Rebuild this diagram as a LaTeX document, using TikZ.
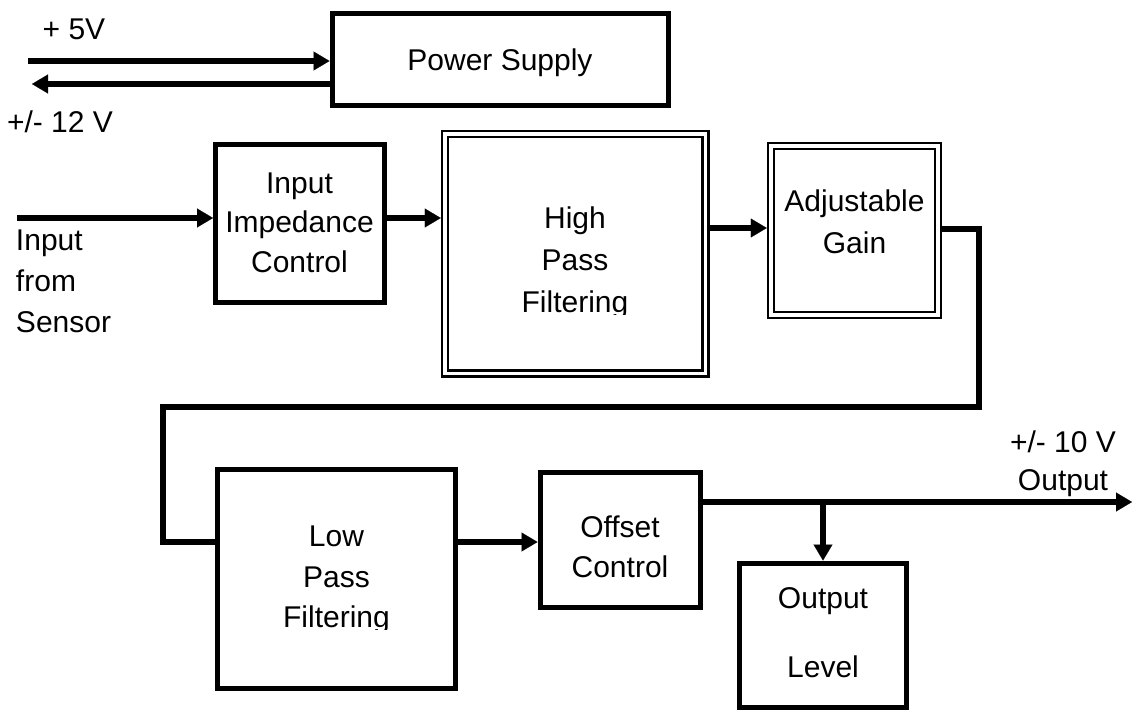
\documentclass[tikz,border=0pt]{standalone}
\usepackage{fontspec}
\setmainfont{Liberation Sans}
\usetikzlibrary{arrows.meta}
\begin{document}
\begin{tikzpicture}[x=1pt,y=-1pt,
 box/.style={draw, line width=5pt, inner sep=0pt, outer sep=2.5pt},
 dbox/.style={draw, line width=2.5pt, double, double distance=3.5pt, inner sep=0pt, outer sep=4.25pt},
 txt/.style={inner sep=0pt, outer sep=0pt, font=\fontsize{30}{40}\selectfont, align=center},
 wire/.style={line width=5.5pt},
 arr/.style={wire, -{Triangle[length=16pt,width=19pt,line width=0.1pt]}}
]
\useasboundingbox (0,0) rectangle (1132,712);

% boxes
\node[box, minimum width=336, minimum height=92.5] (ps) at (500,59.25) {};
\node[box, minimum width=168.5, minimum height=158] (imp) at (299.75,223.5) {};
\node[dbox, minimum width=260.5, minimum height=239.5] (hp) at (575.25,253.75) {};
\node[dbox, minimum width=167, minimum height=169] (gain) at (854.5,230.5) {};
\node[box, minimum width=238, minimum height=219] (lp) at (336.5,579) {};
\node[box, minimum width=160, minimum height=135] (off) at (620,539.5) {};
\node[box, minimum width=166.5, minimum height=144.5] (ol) at (823,635.25) {};

% texts
\node[txt] (pstext) at (500,62.5) {Power Supply};
\node[txt] (t5) at (74,29) {+ 5V};
\node[txt] (t12) at (60,122) {+/- 12 V};
\node[txt, anchor=west, align=left, font=\fontsize{30}{41}\selectfont] (tin) at (16,281) {Input\\from\\Sensor};
\node[txt, font=\fontsize{30}{39.5}\selectfont] (timp) at (299.5,222.5) {Input\\Impedance\\Control};
\begin{scope}
\clip (445,134) rectangle (706,314);
\node[txt, font=\fontsize{30}{42}\selectfont] (thp) at (575,263) {High\\Pass\\Filtering};
\end{scope}
\node[txt, font=\fontsize{30}{42}\selectfont] (tgain) at (854.5,222) {Adjustable\\Gain};
\begin{scope}
\clip (217.5,469.5) rectangle (455.5,629);
\node[txt, font=\fontsize{30}{40.5}\selectfont] (tlp) at (336.5,580) {Low\\Pass\\Filtering};
\end{scope}
\node[txt, font=\fontsize{30}{40}\selectfont] (toff) at (620,547) {Offset\\Control};
\node[txt, font=\fontsize{30}{69}\selectfont] (tol) at (823,632.5) {Output\\Level};
\node[txt, font=\fontsize{30}{38}\selectfont] (tout) at (1063,464) {+/- 10 V\\Output};

% connectors
\coordinate (p5) at (28,61);
\draw[arr] (p5) -- (p5 -| ps.west);
\coordinate (m12) at (32,84);
\draw[arr] (m12 -| ps.west) -- (m12);
\coordinate (sens) at (17,218);
\draw[arr] (sens) -- (sens -| imp.west);
\draw[arr] (sens -| imp.east) -- (sens -| hp.west);
\coordinate (hg) at (740,228);
\draw[arr] (hg -| hp.east) -- (hg -| gain.west);
\coordinate (c1) at (979,229);
\coordinate (c2) at (979,407);
\coordinate (c3) at (163,407);
\coordinate (c4) at (163,542);
\draw[wire] (c1 -| gain.east) -- (c1) -- (c2) -- (c3) -- (c4) -- (c4 -| lp.west);
\draw[arr] (c4 -| lp.east) -- (c4 -| off.west);
\coordinate (outend) at (1132,502);
\draw[arr] (outend -| off.east) -- (outend);
\coordinate (junc) at (ol.north |- outend);
\draw[arr] (junc) -- (ol.north);
\end{tikzpicture}
\end{document}
